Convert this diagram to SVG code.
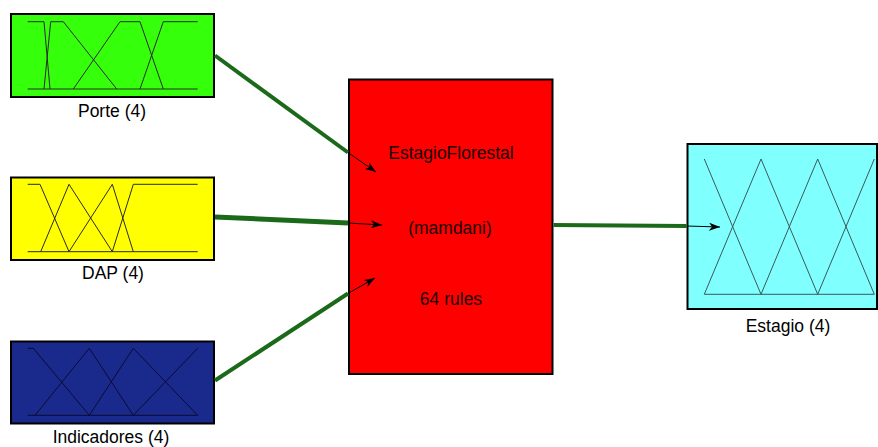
<svg xmlns="http://www.w3.org/2000/svg" width="878" height="447" viewBox="0 0 878 447">
<defs>
<marker id="ah" markerUnits="userSpaceOnUse" markerWidth="12" markerHeight="8" refX="11" refY="4" orient="auto">
<path d="M0,0 L11,4 L0,8 L3,4 z" fill="#000"/>
</marker>
<style>
.box{stroke:#000;stroke-width:2}
.mf{fill:none;stroke:#2a2a2a;stroke-width:1}
.lbl{font-family:"Liberation Sans",Arial,sans-serif;font-size:17.5px;fill:#000;text-anchor:middle}
.wire{stroke:#1a6a1a;stroke-width:4;fill:none}
.tip{stroke:#000;stroke-width:1;fill:none;marker-end:url(#ah)}
</style>
</defs>
<rect width="878" height="447" fill="#fff"/>
<g id="porte">
<rect class="box" x="11" y="14" width="203" height="83" fill="#35ff0a"/>
<path class="mf" d="M27.7,89 H197.7 M27.7,21.7 H44 L50,89 M44,89 L50.7,21.7 H63.3 L116.7,89 M73.3,89 L120,21.7 H140 L163.3,89 M140,89 L163.3,21.7 H197.7"/>
<text class="lbl" x="112" y="117">Porte (4)</text>
</g>
<g id="dap">
<rect class="box" x="11" y="177.5" width="203" height="82.5" fill="#ffff00"/>
<path class="mf" d="M27.7,251.7 H197.7 M27.7,184.3 H40 L69,251.7 M40.7,251.7 L69,184.3 L112.3,251.7 M69,251.7 L112.3,184.3 L133.3,251.7 M112.3,251.7 L133.3,184.3 H197.7"/>
<text class="lbl" x="113" y="279">DAP (4)</text>
</g>
<g id="indicadores">
<rect class="box" x="11" y="341.5" width="203" height="82" fill="#1a2a8c"/>
<path class="mf" d="M27.7,415.3 H197.7 M27.7,348.3 H33.3 L89.3,415.3 M35,415.3 L89.3,348.3 L133.3,415.3 M89.3,415.3 L133.3,348.3 L197.7,415.3 M133.3,415.3 L197.7,348.3" style="stroke:#0a0a30"/>
<text class="lbl" x="111" y="443">Indicadores (4)</text>
</g>
<g id="estagioflorestal">
<rect class="box" x="349" y="79.5" width="203.5" height="294.5" fill="#ff0000"/>
<text class="lbl" x="451" y="159" style="fill:#1a0000">EstagioFlorestal</text>
<text class="lbl" x="450" y="234" style="fill:#1a0000">(mamdani)</text>
<text class="lbl" x="451" y="305" style="fill:#1a0000">64 rules</text>
</g>
<g id="estagio">
<rect class="box" x="687.5" y="144" width="189.5" height="165" fill="#80ffff"/>
<path class="mf" d="M704.3,294.3 H874.3 M704.3,159 L761,294.3 M704.3,294.3 L761,159 L817.7,294.3 M761,294.3 L817.7,159 L874.3,294.3 M817.7,294.3 L874.3,159" style="stroke:#3a5a5a"/>
<text class="lbl" x="788" y="332">Estagio (4)</text>
</g>
<g id="connectors">
<line class="wire" x1="215" y1="55.5" x2="348" y2="152.5"/>
<line class="tip" x1="348" y1="152.5" x2="376" y2="172"/>
<line class="wire" x1="215" y1="217" x2="348" y2="223" style="stroke-width:5"/>
<line class="tip" x1="348" y1="223" x2="382" y2="225"/>
<line class="wire" x1="215" y1="380.5" x2="348" y2="293.5"/>
<line class="tip" x1="348" y1="293.5" x2="375" y2="278"/>
<line class="wire" x1="553.5" y1="225" x2="686.5" y2="226"/>
<line class="tip" x1="686.5" y1="226" x2="720" y2="227"/>
</g>
</svg>
